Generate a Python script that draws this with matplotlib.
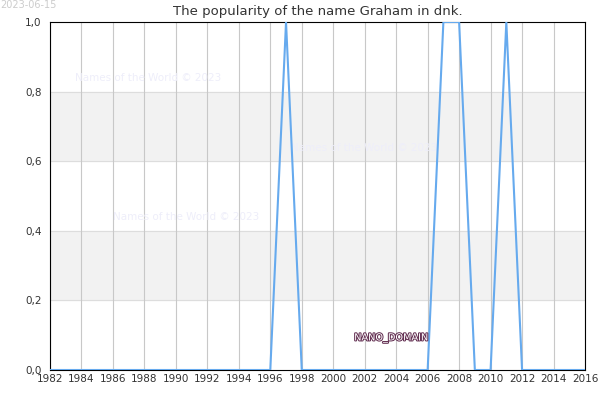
import matplotlib
matplotlib.use("Agg")
import matplotlib.pyplot as plt
import matplotlib.patheffects as pe

years = list(range(1982, 2017))
values = [0]*len(years)
for y in (1997, 2007, 2008, 2011):
    values[years.index(y)] = 1
xticks = list(range(1982, 2017, 2))
yticks = [0.0, 0.2, 0.4, 0.6, 0.8, 1.0]
ylabels = ["0,0", "0,2", "0,4", "0,6", "0,8", "1,0"]

fig = plt.figure(figsize=(6, 4), dpi=100)
ax = fig.add_axes([50/600, 30/400, 535/600, 348/400])
for lo, hi in [(0.2, 0.4), (0.6, 0.8)]:
    ax.axhspan(lo, hi, color="#f2f2f2", zorder=0)
for yv in yticks[1:-1]:
    ax.axhline(yv, color="#dddddd", lw=0.8, zorder=1)
for xv in xticks:
    ax.axvline(xv, color="#c8c8c8", lw=0.8, zorder=1)
ax.plot(years, values, color="#66aaee", lw=1.5, zorder=3)
ax.set_xlim(1982, 2016)
ax.set_ylim(0, 1)
ax.set_xticks(xticks)
ax.set_xticklabels([str(x) for x in xticks], fontsize=7.5, color="#333333")
ax.set_yticks(yticks)
ax.set_yticklabels(ylabels, fontsize=7.5, color="#333333")
ax.tick_params(axis="x", length=0, pad=3)
ax.tick_params(axis="y", length=0, pad=6)
for s in ax.spines.values():
    s.set_color("#000000"); s.set_linewidth(0.8)
ax.set_title("The popularity of the name Graham in dnk.", fontsize=9.5, color="#333333", pad=5)
fig.text(0.0, 1.0, "2023-06-15", fontsize=7, color="#cccccc", va="top", ha="left")
for (xx, yy) in [(1983.6, 0.83), (1997.3, 0.63), (1986.0, 0.43)]:
    ax.text(xx, yy, "Names of the World © 2023", fontsize=7.5, color="#eeeefa", zorder=2)
ax.text(2003.7, 0.085, "NANO_DOMAIN", fontsize=7, color="white", ha="center", zorder=4,
        path_effects=[pe.withStroke(linewidth=1.5, foreground="#663355")])
fig.savefig("out.png", dpi=100)
